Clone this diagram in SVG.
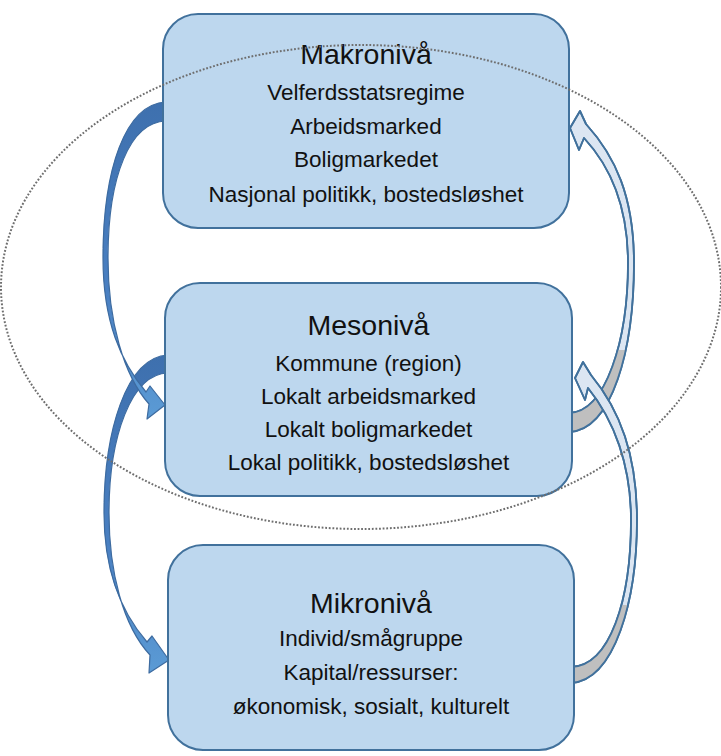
<svg xmlns="http://www.w3.org/2000/svg" width="721" height="756" viewBox="0 0 721 756">
<style>
.box{fill:#BDD7EE;stroke:#41719C;stroke-width:2}
.t{font-family:"Liberation Sans",Arial,sans-serif;fill:#111;text-anchor:middle;font-size:22.5px}
.h{font-size:28.5px}
.la{stroke:#3D6BA0;stroke-width:1.2;stroke-linejoin:round}
.ra{fill:#DCE6F2;stroke:#41719C;stroke-width:1.8;stroke-linejoin:round}
.ring{fill:none;stroke:#6E6E6E;stroke-width:2;stroke-dasharray:1.8 1.8}
</style>
<defs>
<linearGradient id="g1" gradientUnits="userSpaceOnUse" x1="0" y1="100" x2="0" y2="420">
<stop offset="0" stop-color="#3E70AE"/><stop offset="0.6" stop-color="#4A80C2"/><stop offset="1" stop-color="#5B9BD5"/>
</linearGradient>
<linearGradient id="g2" gradientUnits="userSpaceOnUse" x1="0" y1="355" x2="0" y2="675">
<stop offset="0" stop-color="#3E70AE"/><stop offset="0.6" stop-color="#4A80C2"/><stop offset="1" stop-color="#5B9BD5"/>
</linearGradient>
<clipPath id="c3"><rect x="560" y="350" width="100" height="100"/></clipPath>
<clipPath id="c4"><rect x="560" y="605" width="100" height="100"/></clipPath>
<path id="p3" d="M569,432 C612,430 634,350 634,263 C634,196 615,156 586,124 L580,111 L570,128 L579,150 L584,138 C610,166 628,206 628,263 C628,340 606,412 569,413 Z"/>
<path id="p4" d="M571,683 C615,680 637,600 637,520 C637,455 620,410 591,375 L583,362 L575,378 L585,400 L588,388 C614,420 631,465 631,520 C631,600 610,666 571,667 Z"/>
</defs>
<g id="connectors">
<path id="a2" class="la" fill="url(#g2)" d="M168,355 C126,357 104,432 104,513 C104,572 121,612 147,642 L152,636 L169,660 L149,673 L150,655 C123,626 109,572 109,513 C109,437 131,374 168,373 Z"/>
<path id="a1" class="la" fill="url(#g1)" d="M166,102 C125,104 103,170 103,258 C103,322 121,362 146,392 L150,386 L165,405 L147,419 L149,404 C124,376 108,322 108,258 C108,176 130,122 166,121 Z"/>
<g id="a3">
<use href="#p3" class="ra"/>
<use href="#p3" fill="#BFBFBF" clip-path="url(#c3)"/>
<use href="#p3" fill="none" stroke="#41719C" stroke-width="1.8" stroke-linejoin="round"/>
</g>
<g id="a4">
<use href="#p4" class="ra"/>
<use href="#p4" fill="#BFBFBF" clip-path="url(#c4)"/>
<use href="#p4" fill="none" stroke="#41719C" stroke-width="1.8" stroke-linejoin="round"/>
</g>
</g>
<g id="makro">
<rect class="box" x="163" y="14" width="406" height="214" rx="35"/>
<text class="t h" x="366" y="64">Makronivå</text>
<text class="t" x="366" y="100">Velferdsstatsregime</text>
<text class="t" x="366" y="134">Arbeidsmarked</text>
<text class="t" x="366" y="167">Boligmarkedet</text>
<text class="t" x="366" y="202">Nasjonal politikk, bostedsløshet</text>
</g>
<g id="meso">
<rect class="box" x="165" y="283" width="407" height="213" rx="35"/>
<text class="t h" x="368.5" y="335">Mesonivå</text>
<text class="t" x="368.5" y="371">Kommune (region)</text>
<text class="t" x="368.5" y="404">Lokalt arbeidsmarked</text>
<text class="t" x="368.5" y="437">Lokalt boligmarkedet</text>
<text class="t" x="368.5" y="470">Lokal politikk, bostedsløshet</text>
</g>
<g id="mikro">
<rect class="box" x="168" y="545" width="406" height="205" rx="35"/>
<text class="t h" x="371" y="613">Mikronivå</text>
<text class="t" x="371" y="646">Individ/smågruppe</text>
<text class="t" x="371" y="680">Kapital/ressurser:</text>
<text class="t" x="371" y="714">økonomisk, sosialt, kulturelt</text>
</g>
<ellipse id="ring" class="ring" cx="361" cy="287" rx="360" ry="242"/>
</svg>
